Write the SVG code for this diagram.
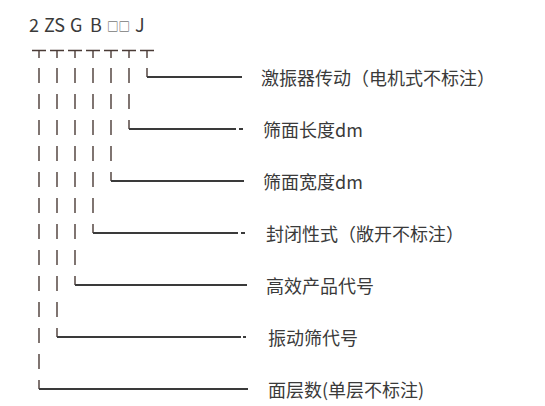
<svg xmlns="http://www.w3.org/2000/svg" width="545" height="406" viewBox="0 0 545 406">
<style>
.t{font-family:"Noto Sans CJK SC","Noto Sans",sans-serif;fill:#3a3a3a;}
.lbl{font-size:18px;}
.bar{stroke:#4a3b36;stroke-width:1.4;fill:none;}
.ln{stroke:#3a3a3a;stroke-width:2;fill:none;}
</style>
<rect width="545" height="406" fill="#fff"/>
<g id="title">
<text class="t" y="32" font-size="18"><tspan x="29">2</tspan><tspan x="44">ZS</tspan><tspan x="70">G</tspan><tspan x="90">B</tspan><tspan x="135">J</tspan></text>
<text class="t" x="107" y="31" font-size="11.5">□□</text>
</g>
<g id="connectors">
<path class="bar" d="M32,50.5H46M39,50V58 M50,50.5H64M57,50V58 M68,50.5H82M75,50V58 M86,50.5H100M93,50V58 M104,50.5H118M111,50V58 M122,50.5H136M129,50V58 M140,50.5H154M147,50V58"/>
<path class="bar" d="M39,68v15M39,94v15M39,120v15M39,146v15M39,172v15M39,198v15M39,224v15M39,250v15M39,276v15M39,302v15M39,328v15M39,354v15"/>
<path class="bar" d="M57,68v15M57,94v15M57,120v15M57,146v15M57,172v15M57,198v15M57,224v15M57,250v15M57,276v15M57,302v15"/>
<path class="bar" d="M75,68v15M75,94v15M75,120v15M75,146v15M75,172v15M75,198v15M75,224v15M75,250v15"/>
<path class="bar" d="M93,68v15M93,94v15M93,120v15M93,146v15M93,172v15M93,198v15"/>
<path class="bar" d="M111,68v15M111,94v15M111,120v15M111,146v15"/>
<path class="bar" d="M129,68v15M129,94v15"/>
<path class="bar" d="M147,68V77 M129,120V129 M111,172V181 M93,224V233 M75,276V285 M57,328V337 M39,380V389"/>
<path class="ln" d="M147,77H242"/>
<path class="ln" d="M129,129H236M239,129H243"/>
<path class="ln" d="M111,181H244"/>
<path class="ln" d="M93,233H238M241,233H245"/>
<path class="ln" d="M75,285H247"/>
<path class="ln" d="M57,337H241M243,337H246"/>
<path class="ln" d="M39,389H248"/>
</g>
<g id="n1"><text class="t lbl" x="261" y="84.5">激振器传动（电机式不标注）</text></g>
<g id="n2"><text class="t lbl" x="263" y="136.5">筛面长度dm</text></g>
<g id="n3"><text class="t lbl" x="263" y="188.5">筛面宽度dm</text></g>
<g id="n4"><text class="t lbl" x="266" y="240.5">封闭性式（敞开不标注）</text></g>
<g id="n5"><text class="t lbl" x="266" y="292.5">高效产品代号</text></g>
<g id="n6"><text class="t lbl" x="268" y="344.5">振动筛代号</text></g>
<g id="n7"><text class="t lbl" x="268" y="396.5">面层数(单层不标注)</text></g>
</svg>
